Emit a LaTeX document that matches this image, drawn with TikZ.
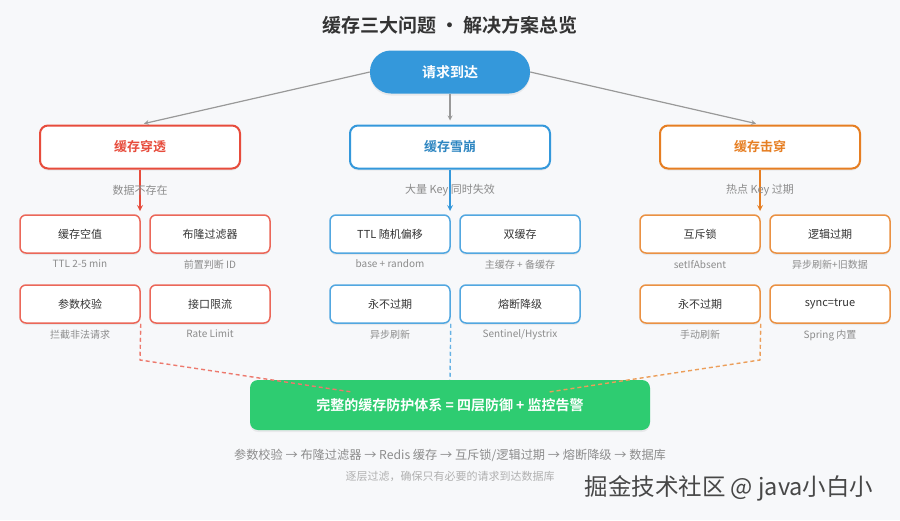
\documentclass[tikz,border=0pt]{standalone}
\usepackage{fontspec}
\setmainfont{Noto Sans CJK SC}[BoldFont={Noto Sans CJK SC Bold}]
\usetikzlibrary{shadows,backgrounds}

\definecolor{pageBg}{HTML}{F7F8FA}
\definecolor{cRed}{HTML}{E74C3C}
\definecolor{cBlue}{HTML}{3498DB}
\definecolor{cBlueDk}{HTML}{2E86C1}
\definecolor{cOrange}{HTML}{E67E22}
\definecolor{cGreen}{HTML}{2ECC71}
\definecolor{arrGray}{HTML}{999999}
\definecolor{txtDark}{HTML}{333333}
\definecolor{capGray}{HTML}{8C8C8C}
\definecolor{noteGray}{HTML}{B0B0B0}

\newcommand{\fs}[1]{\fontsize{#1}{#1}\selectfont}

\begin{document}
\begin{tikzpicture} [x=1pt,y=-1pt,>=stealth,
			background rectangle/.style={fill=pageBg}, show background rectangle,
			inner frame sep=0pt,
			softshadow/.style={drop shadow={opacity=0.12,shadow xshift=0pt,shadow yshift=-2pt}},
			req/.style={rounded corners=21pt,fill=cBlue,text=white,font=\bfseries\fs{14},
				minimum width=160pt,minimum height=43pt,softshadow},
			problem/.style={draw,line width=2pt,rounded corners=8pt,fill=white,
				minimum width=200pt,minimum height=43pt,font=\bfseries\fs{13},softshadow},
			fix/.style={draw,line width=1.5pt,rounded corners=6pt,fill=white,text=txtDark,
				minimum width=120pt,minimum height=38pt,font=\fs{11},softshadow},
			every label/.style={font=\fs{10},text=capGray,inner sep=1pt},
			label distance=5pt,
			link/.style={->,draw=arrGray,line width=1.2pt,shorten >=4pt},
			down/.style={->,line width=1.6pt},
			cause/.style={font=\fs{11},text=capGray},
			guide/.style={line width=1.4pt,dash pattern=on 4pt off 3pt},
			summary/.style={rounded corners=8pt,fill=cGreen,text=white,font=\bfseries\fs{14},
				minimum width=400pt,minimum height=50pt,softshadow}]

		\useasboundingbox (0,0) rectangle (900,520);

		\node [font=\bfseries\fs{19},text=txtDark] (title) at (450,25) {缓存三大问题 · 解决方案总览};
		\node [req] (req) at (450,72) {请求到达};

		\node [problem, draw=cRed, text=cRed] (pen) at (140,147) {缓存穿透};
		\node [problem, draw=cBlue, text=cBlueDk] (ava) at (450,147) {缓存雪崩};
		\node [problem, draw=cOrange, text=cOrange] (brk) at (760,147) {缓存击穿};

		\draw [link] (req.west) -- (pen.north);
		\draw [link] (req.south) -- (ava.north);
		\draw [link] (req.east) -- (brk.north);

		% penetration
		\node [fix, draw=cRed!85, label=below:{TTL 2-5 min}] (nullv) at (80,234) {缓存空值};
		\node [fix, draw=cRed!85, label=below:{前置判断 ID}] (bloom) at (210,234) {布隆过滤器};
		\node [fix, draw=cRed!85, label=below:{拦截非法请求}] (param) at (80,304) {参数校验};
		\node [fix, draw=cRed!85, label=below:{Rate Limit}] (limit) at (210,304) {接口限流};

		% avalanche
		\node [fix, draw=cBlue!85, label=below:{base + random}] (jitter) at (390,234) {TTL 随机偏移};
		\node [fix, draw=cBlue!85, label=below:{主缓存 + 备缓存}] (dual) at (520,234) {双缓存};
		\node [fix, draw=cBlue!85, label=below:{异步刷新}] (noexpa) at (390,304) {永不过期};
		\node [fix, draw=cBlue!85, label=below:{Sentinel/Hystrix}] (fuse) at (520,304) {熔断降级};

		% breakdown
		\node [fix, draw=cOrange!85, label=below:{setIfAbsent}] (mutex) at (700,234) {互斥锁};
		\node [fix, draw=cOrange!85, label=below:{异步刷新+旧数据}] (logic) at (830,234) {逻辑过期};
		\node [fix, draw=cOrange!85, label=below:{手动刷新}] (noexpb) at (700,304) {永不过期};
		\node [fix, draw=cOrange!85, label=below:{Spring 内置}] (sync) at (830,304) {sync=true};

		\coordinate (penin) at (140,211);
		\coordinate (avain) at (450,211);
		\coordinate (brkin) at (760,211);
		\draw [down, cRed] (pen.south) -- node [cause] {数据不存在} (penin);
		\draw [down, cBlue] (ava.south) -- node [cause] {大量 Key 同时失效} (avain);
		\draw [down, cOrange] (brk.south) -- node [cause] {热点 Key 过期} (brkin);

		\node [summary] (sum) at (450,405) {完整的缓存防护体系 = 四层防御 + 监控告警};

		\coordinate (penbend) at (140,360);
		\coordinate (penend) at (352,392);
		\coordinate (brkbend) at (760,360);
		\coordinate (brkend) at (549,392);
		\draw [guide, cRed!75] (param.south east) -- (penbend) -- (penend);
		\draw [guide, cBlue!75] (noexpa.south east) -- (sum.north);
		\draw [guide, cOrange!75] (noexpb.south east) -- (brkbend) -- (brkend);

		\node [font=\fs{12.2},text=capGray] (flow) at (450,455)
			{参数校验 → 布隆过滤器 → Redis 缓存 → 互斥锁/逻辑过期 → 熔断降级 → 数据库};
		\node [font=\fs{11},text=noteGray] (note) at (450,476) {逐层过滤，确保只有必要的请求到达数据库};
		\node [font=\fs{23.5},text=txtDark!90] (mark) at (729,488) {掘金技术社区 @ java小白小};

\end{tikzpicture}
\end{document}
